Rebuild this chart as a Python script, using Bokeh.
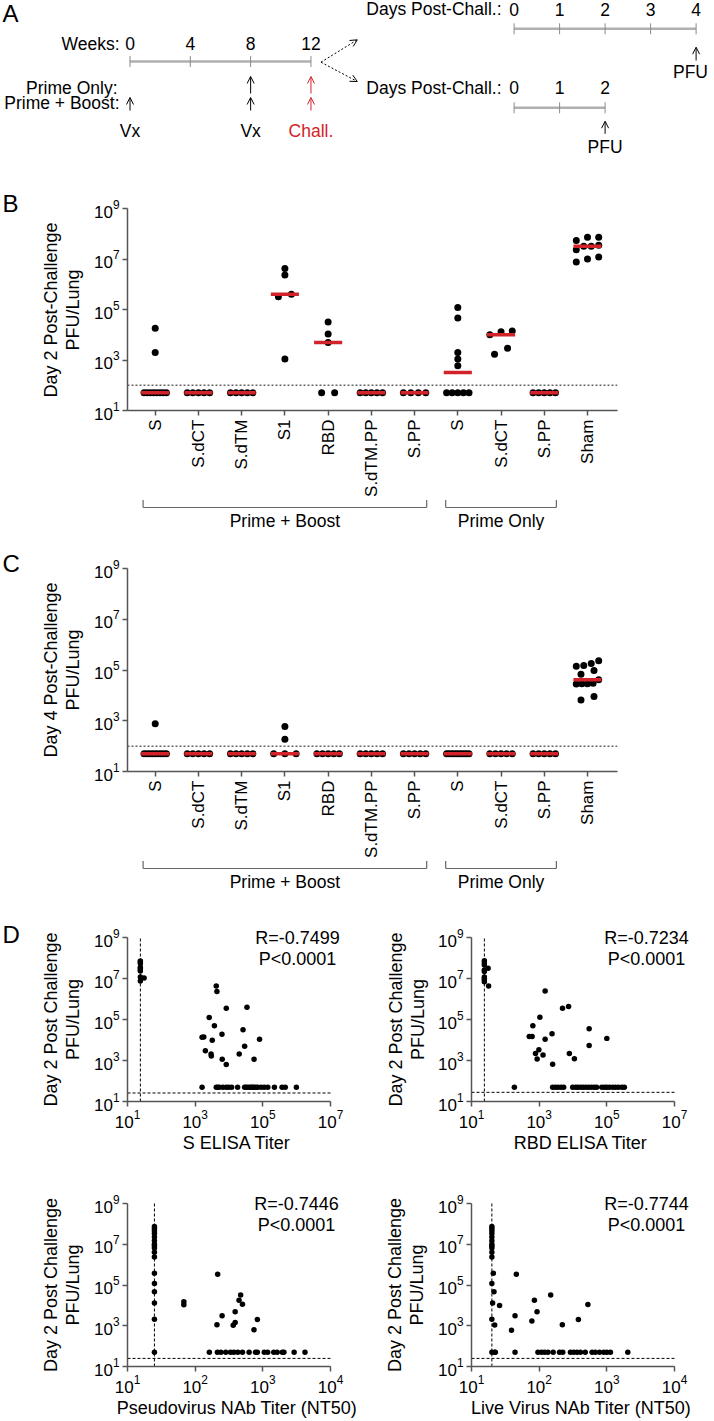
import math
import numpy as np
from bokeh.plotting import figure
from bokeh.layouts import column, row
from bokeh.models import Range1d, FixedTicker, Span, Arrow, OpenHead
from bokeh.embed import file_html
from bokeh.resources import INLINE
from bokeh.core.properties import value

FONT = "Liberation Sans"
RED = "#d2232a"
AXC = "#555555"

# ---------------- Panel A: schedule ----------------
weeks = [0, 4, 8, 12]
prime_only_vx_weeks = [8]
prime_boost_vx_weeks = [0, 8]
challenge_week = 12
days_long = [0, 1, 2, 3, 4]
days_short = [0, 1, 2]

# ---------------- Panels B / C ----------------
groups = ["S", "S.dCT", "S.dTM", "S1", "RBD", "S.dTM.PP", "S.PP", "S", "S.dCT", "S.PP", "Sham"]
regimens = ["Prime + Boost", "Prime Only"]
regimen_first = [0, 7]
regimen_last = [6, 9]

d2_S_pb = [1.8e4, 2.0e3, 50, 50, 50, 50, 50, 50, 50, 50]
d2_SdCT_pb = [50, 50, 50, 50, 50]
d2_SdTM_pb = [50, 50, 50, 50, 50]
d2_S1_pb = [4.2e6, 2.3e6, 4.0e5, 3.2e5, 1.1e3]
d2_RBD_pb = [3.2e4, 1.07e4, 4.9e3, 50, 50]
d2_SdTMPP_pb = [50, 50, 50, 50, 50]
d2_SPP_pb = [50, 50, 50, 50]
d2_S_po = [1.2e5, 4.6e4, 2.0e3, 1.1e3, 590, 50, 50, 50, 50, 50]
d2_SdCT_po = [1.3e4, 1.4e4, 1.0e4, 1.7e3, 2.9e3]
d2_SPP_po = [50, 50, 50, 50, 50]
d2_sham = [7.2e7, 7.2e7, 5.4e7, 3.5e7, 3.2e7, 3.2e7, 2.3e7, 1.2e7, 1.0e7, 7.6e6]

d4_S_pb = [760, 50, 50, 50, 50, 50, 50, 50, 50, 50]
d4_SdCT_pb = [50, 50, 50, 50, 50]
d4_SdTM_pb = [50, 50, 50, 50, 50]
d4_S1_pb = [590, 185, 50, 50, 50]
d4_RBD_pb = [50, 50, 50, 50, 50]
d4_SdTMPP_pb = [50, 50, 50, 50, 50]
d4_SPP_pb = [50, 50, 50, 50, 50]
d4_S_po = [50, 50, 50, 50, 50, 50, 50, 50, 50, 50]
d4_SdCT_po = [50, 50, 50, 50, 50]
d4_SPP_po = [50, 50, 50, 50, 50]
d4_sham = [2.3e5, 1.8e5, 1.5e5, 1.4e5, 9.6e4, 6.8e4, 4.1e4, 3.0e4, 2.9e4, 2.8e4, 2.9e4, 9.1e3, 6.6e3]

lod_pfu = 100

# ---------------- Panel D ----------------
s_elisa_titer = [24, 24, 24, 24, 24, 24, 24, 24, 31, 24,
                 4200, 4400, 8300, 3.4e4, 2600, 3700, 6200, 1600, 1800, 2.6e4,
                 8.0e4, 3200, 2000, 2950, 3000, 2.9e4, 2.0e4, 6300, 8300, 5.5e4,
                 1600, 4200, 4600, 5200, 6600, 8300, 9800, 1.2e4, 1.8e4, 2.9e4,
                 3.2e4, 3.6e4, 4.1e4, 4.6e4, 5.0e4, 5.6e4, 6.3e4, 7.1e4, 8.9e4, 1.1e5,
                 1.4e5, 2.2e5, 3.7e5, 4.6e5, 9.8e5]
s_elisa_pfu = [7.2e7, 6.5e7, 5.4e7, 3.5e7, 3.2e7, 2.6e7, 2.3e7, 1.2e7, 1.05e7, 7.6e6,
               4.3e6, 2.3e6, 3.5e5, 4.0e5, 1.26e5, 4.9e4, 1.9e4, 1.35e4, 1.4e4, 3.2e4,
               1.1e4, 9800, 3000, 2100, 1650, 4900, 2100, 1150, 630, 1150,
               50, 50, 50, 50, 50, 50, 50, 50, 50, 50,
               50, 50, 50, 50, 50, 50, 50, 50, 50, 50,
               50, 50, 50, 50, 50]

rbd_elisa_titer = [24, 24, 24, 31, 24, 24, 24, 24, 24, 24,
                   32, 1500, 4900, 7400, 1050, 650, 510, 620, 2400, 1500,
                   3.0e4, 1.0e5, 780, 980, 870, 1300, 2500, 7800, 1.1e4, 3.0e4,
                   185, 2500, 3000, 3600, 4400, 5300, 9800, 1.2e4, 1.4e4, 1.7e4,
                   2.0e4, 2.4e4, 2.9e4, 3.5e4, 4.2e4, 5.0e4, 7.1e4, 8.5e4, 1.0e5, 1.2e5,
                   1.5e5, 1.8e5, 2.2e5, 2.8e5, 3.3e5]
rbd_elisa_pfu = [7.4e7, 5.9e7, 4.6e7, 3.2e7, 2.6e7, 2.2e7, 1.2e7, 1.0e7, 8.5e6, 6.9e6,
                 4.3e6, 2.45e6, 3.5e5, 4.3e5, 1.3e5, 5.0e4, 1.5e4, 1.48e4, 2.0e4, 1.1e4,
                 3.5e4, 1.2e4, 2200, 3300, 1200, 1860, 660, 2200, 1230, 5400,
                 50, 50, 50, 50, 50, 50, 50, 50, 50, 50,
                 50, 50, 50, 50, 50, 50, 50, 50, 50, 50,
                 50, 50, 50, 50, 50]

pseudo_nt50 = [25, 25, 25, 25, 25, 25, 25, 25, 25, 25, 25, 25, 25, 25, 25, 25, 25,
               215, 68, 68, 250, 210, 390, 365, 390, 470, 445, 500, 740, 830,
               162, 213, 240, 283, 333, 373, 427, 500, 627, 780,
               830, 1050, 1180, 1450, 1630, 1940, 2050, 2900, 4200]
pseudo_pfu = [7.4e7, 6.0e7, 4.6e7, 3.4e7, 2.3e7, 1.5e7, 1.0e7, 8.3e6, 6.5e6, 4.0e6,
              2.4e6, 3.8e5, 1.2e5, 4.7e4, 1.3e4, 2100, 50,
              3.4e5, 1.5e4, 1.07e4, 3100, 1120, 4800, 1070, 1450, 3.2e4, 1.8e4, 1.15e4, 630, 2000,
              50, 50, 50, 50, 50, 50, 50, 50, 50, 50,
              50, 50, 50, 50, 50, 50, 50, 50, 50]

live_nt50 = [20, 20, 20, 20, 20, 20, 20, 20, 20, 20, 20, 21, 20, 21.5, 20.5, 20, 22, 20, 22, 22.5,
             46, 26, 44, 39, 78, 148, 85, 93, 220, 380, 525,
             44, 96, 108, 120, 135, 161, 200, 223, 290, 324,
             363, 407, 480, 605, 676, 780, 900, 1000, 1130, 2040]
live_pfu = [7.4e7, 6.0e7, 4.6e7, 3.4e7, 2.3e7, 1.5e7, 1.0e7, 8.3e6, 6.5e6, 4.0e6,
            2.4e6, 3.8e5, 1.2e5, 4.7e4, 1.3e4, 2100, 1100, 50, 50, 50,
            3.4e5, 1.0e4, 3100, 600, 1700, 3.2e4, 1.8e4, 4800, 1120, 2000, 1.1e4,
            50, 50, 50, 50, 50, 50, 50, 50, 50, 50,
            50, 50, 50, 50, 50, 50, 50, 50, 50, 50]

corr_r = ["R=-0.7499", "R=-0.7234", "R=-0.7446", "R=-0.7744"]
corr_p = ["P<0.0001", "P<0.0001", "P<0.0001", "P<0.0001"]
titer_names = ["S ELISA Titer", "RBD ELISA Titer", "Pseudovirus NAb Titer (NT50)", "Live Virus NAb Titer (NT50)"]
titer_cutoff = [24, 24, 25, 20]
pfu_cutoff = [26, 28, 25, 25]
y_ticks_pfu = [10, 1e3, 1e5, 1e7, 1e9]
x_ticks_elisa = [10, 1e3, 1e5, 1e7]
x_ticks_nab = [10, 1e2, 1e3, 1e4]


# ---------------- helpers ----------------
def common(p):
    p.grid.visible = False
    p.outline_line_color = None
    p.background_fill_color = "white"
    p.border_fill_color = "white"
    return p


def page_fig(x0, x1, y0, y1):
    """A figure whose frame covers a page rectangle; drawn with x=page x, y=-page y."""
    p = figure(width=int(x1 - x0), height=int(y1 - y0), x_range=Range1d(x0, x1), y_range=Range1d(-y1, -y0),
               x_axis_location=None, y_axis_location=None, output_backend="svg", toolbar_location=None,
               min_border_left=0, min_border_right=0, min_border_top=0, min_border_bottom=0)
    return common(p)


def ptext(p, xs, ys, texts, size="17.5px", align="center", angle=0.0, color="black"):
    p.text(x=list(xs), y=[-y for y in ys], text=list(texts), text_font=value(FONT), text_font_size=size,
           text_align=align, text_baseline="middle", angle=angle, text_color=color)


def style_axes(p):
    for ax in p.axis:
        ax.axis_line_color = AXC
        ax.axis_line_width = 1.5
        ax.major_tick_line_color = AXC
        ax.major_tick_line_width = 1.5
        ax.major_tick_out = 5
        ax.major_tick_in = 0
        ax.minor_tick_line_color = None
        ax.major_label_text_font = FONT
        ax.major_label_text_font_size = "17px"
        ax.major_label_text_color = "black"
        ax.major_label_standoff = 3
        ax.axis_label_text_font = FONT
        ax.axis_label_text_font_size = "18px"
        ax.axis_label_text_font_style = "normal"
        ax.axis_label_text_color = "black"


def swarm_offsets(vals, ppd=25.375, ppu=43.2, thresh=6.5, max_sp=13.0, width=22.4):
    order = sorted(range(len(vals)), key=lambda i: vals[i])
    bands = []
    for idx in order:
        lv = math.log10(vals[idx])
        if bands and (lv - bands[-1][0]) * ppd < thresh:
            bands[-1][1].append(idx)
        else:
            bands.append([lv, [idx]])
    off = [0.0] * len(vals)
    for _, members in bands:
        k = len(members)
        if k > 1:
            sp = min(max_sp, width / (k - 1))
            for j, idx in enumerate(members):
                off[idx] = (j - (k - 1) / 2) * sp / ppu
    return off


def W(p):
    return column(p)


# ---------------- Panel A ----------------
pA = page_fig(0, 714, 0, 155)


def wx(w):
    return 129.5 + 15.08 * w


def dx(d):
    return 513.6 + 45.5 * d


GRAY_LINE = "#b0b0b0"
TICK_C = "#8a8a8a"


def timeline(p, xs, y):
    p.line(x=[xs[0], xs[-1]], y=[-y, -y], line_color=GRAY_LINE, line_width=2.5)
    p.segment(x0=xs, x1=xs, y0=[-(y - 5.5)] * len(xs), y1=[-(y + 5.5)] * len(xs),
              line_color=TICK_C, line_width=1)


def up_arrow(p, x, y0, y1, color, dash="solid", x1=None):
    p.add_layout(Arrow(end=OpenHead(size=7, line_color=color, line_width=1),
                       x_start=x, y_start=-y0, x_end=x if x1 is None else x1, y_end=-y1,
                       line_color=color, line_width=1, line_dash=dash))


timeline(pA, [wx(w) for w in weeks], 61)
ptext(pA, [wx(w) for w in weeks], [43] * len(weeks), [str(w) for w in weeks])
ptext(pA, [119, 117, 119], [43, 87, 102], ["Weeks:", "Prime Only:", "Prime + Boost:"], align="right")
for w in prime_only_vx_weeks:
    up_arrow(pA, wx(w), 93, 76, "black")
up_arrow(pA, wx(challenge_week), 93, 76, RED)
for w in prime_boost_vx_weeks:
    up_arrow(pA, wx(w), 110, 97, "black")
up_arrow(pA, wx(challenge_week), 110, 97, RED)
ptext(pA, [wx(w) for w in prime_boost_vx_weeks], [130] * len(prime_boost_vx_weeks),
      ["Vx"] * len(prime_boost_vx_weeks))
ptext(pA, [wx(challenge_week)], [130], ["Chall."], color=RED)
for yend in (39.3, 81.0):
    up_arrow(pA, wx(challenge_week) + 10, 61.7, yend, "black", dash="2 2", x1=356.8)
for days, y_lab, y_line in ((days_long, 8.8, 28.3), (days_short, 87.3, 107.3)):
    ptext(pA, [501], [y_lab], ["Days Post-Chall.:"], align="right")
    ptext(pA, [dx(d) for d in days], [y_lab] * len(days), [str(d) for d in days])
    timeline(pA, [dx(d) for d in days], y_line)
up_arrow(pA, dx(days_long[-1]), 60, 46.7, "black")
ptext(pA, [690], [71.7], ["PFU"])
up_arrow(pA, dx(days_short[-1]), 133.3, 120.7, "black")
ptext(pA, [dx(days_short[-1])], [146], ["PFU"])
ptext(pA, [2], [13], ["A"], size="24px", align="left")


# ---------------- Panels B / C ----------------
XR_LO, XR_HI = -0.641, 10.694


def category_block(fig_top, top, bottom, data, ylabel_lines, letter, br_height):
    height = top + 203 + bottom
    frame_top = fig_top + top
    side = page_fig(0, 85, fig_top, fig_top + height)
    mid = frame_top + 101.5
    ptext(side, [50, 72], [mid, mid], ylabel_lines, size="18px", angle=math.pi / 2)
    ptext(side, [2], [frame_top - 5], [letter], size="24px", align="left")

    xr = Range1d(XR_LO, XR_HI)
    p = figure(width=629, height=height, x_range=xr, y_range=Range1d(10, 1e9), y_axis_type="log",
               output_backend="svg", toolbar_location=None,
               min_border_left=42, min_border_right=97, min_border_top=top, min_border_bottom=bottom)
    common(p)
    style_axes(p)
    p.yaxis.ticker = FixedTicker(ticks=y_ticks_pfu, minor_ticks=[])
    p.xaxis.ticker = FixedTicker(ticks=list(range(len(groups))), minor_ticks=[])
    p.xaxis.major_label_overrides = {i: g for i, g in enumerate(groups)}
    p.xaxis.major_label_orientation = math.pi / 2
    p.xaxis.major_label_standoff = 4
    p.add_layout(Span(location=lod_pfu, dimension="width", line_color="#666666",
                      line_dash="2 2", line_width=1.5))
    xs, ys = [], []
    for i, vals in enumerate(data):
        offs = swarm_offsets(vals)
        xs += [i + o for o in offs]
        ys += list(vals)
    p.scatter(x=xs, y=ys, size=7, fill_color="black", line_color=None)
    med = [float(np.median(v)) for v in data]
    idx = list(range(len(data)))
    p.segment(x0=[i - 0.325 for i in idx], x1=[i + 0.325 for i in idx], y0=med, y1=med,
              line_color=RED, line_width=3.5)

    btop = fig_top + height
    br = figure(width=714, height=br_height, x_range=xr, y_range=Range1d(-(btop + br_height), -btop),
                x_axis_location=None, y_axis_location=None, output_backend="svg", toolbar_location=None,
                min_border_left=127, min_border_right=97, min_border_top=0, min_border_bottom=0)
    common(br)
    for a, b in zip(regimen_first, regimen_last):
        x0, x1 = a - 0.28, b + 0.28
        yb, yt = -(btop + 8), -(btop + 0.5)
        br.segment(x0=[x0, x0, x1], x1=[x1, x0, x1], y0=[yb, yb, yb], y1=[yb, yt, yt],
                   line_color="#666666", line_width=1.2)
    br.text(x=[(a + b) / 2 for a, b in zip(regimen_first, regimen_last)], y=[-(btop + 21)] * len(regimens),
            text=regimens, text_font=value(FONT), text_font_size="17.5px",
            text_align="center", text_baseline="middle")
    return row(W(side), W(p)), W(br)


day2_data = [d2_S_pb, d2_SdCT_pb, d2_SdTM_pb, d2_S1_pb, d2_RBD_pb, d2_SdTMPP_pb, d2_SPP_pb,
             d2_S_po, d2_SdCT_po, d2_SPP_po, d2_sham]
day4_data = [d4_S_pb, d4_SdCT_pb, d4_SdTM_pb, d4_S1_pb, d4_RBD_pb, d4_SdTMPP_pb, d4_SPP_pb,
             d4_S_po, d4_SdCT_po, d4_SPP_po, d4_sham]

blockB, blockBr = category_block(155, 53, 88, day2_data, ["Day 2 Post-Challenge", "PFU/Lung"], "B", 31)
blockC, blockCr = category_block(530, 38, 89, day4_data, ["Day 4 Post-Challenge", "PFU/Lung"], "C", 32)


# ---------------- Panel D ----------------
EXT = 16  # extra frame pixels to the right of the x axis end (room for the R/P text)


def corr_plot(k, titers, pfus, width, left, right, fig_top, height, top, bottom, frame_l, y9_page,
              xmax, xticks, r_x, label_standoff):
    frame_t = fig_top + top
    frame_b = fig_top + height - bottom
    ppd = (frame_b - y9_page) / 8.0
    ytop = 10 ** (1 + (frame_b - frame_t) / ppd)
    xdec = math.log10(xmax) - 1
    ppx = 203.0 / xdec
    xhi = 10 ** (math.log10(xmax) + EXT / ppx)
    p = figure(width=width, height=height, x_range=Range1d(10, xhi), y_range=Range1d(10, ytop),
               x_axis_type="log", y_axis_type="log", output_backend="svg", toolbar_location=None,
               min_border_left=left, min_border_right=right - EXT, min_border_top=top, min_border_bottom=bottom)
    common(p)
    style_axes(p)
    p.yaxis.ticker = FixedTicker(ticks=y_ticks_pfu, minor_ticks=[])
    p.yaxis.bounds = (10, 1e9)
    p.xaxis.ticker = FixedTicker(ticks=xticks, minor_ticks=[])
    p.xaxis.bounds = (10, xmax)
    p.xaxis.axis_label = titer_names[k]
    p.xaxis.axis_label_standoff = label_standoff
    p.segment(x0=[titer_cutoff[k]], x1=[titer_cutoff[k]], y0=[10], y1=[1e9], line_color="black",
              line_dash="3 2", line_width=1, level="underlay")
    p.segment(x0=[10], x1=[xmax], y0=[pfu_cutoff[k]], y1=[pfu_cutoff[k]], line_color="black",
              line_dash="3 2", line_width=1, level="underlay")
    p.scatter(x=titers, y=pfus, size=5.5, fill_color="black", line_color=None)
    xr = 10 ** (1 + (r_x - frame_l) / ppx)
    y1 = 10 ** (1 + (frame_b - y9_page) / ppd)
    y2 = 10 ** (1 + (frame_b - (y9_page + 21.3)) / ppd)
    p.text(x=[xr, xr], y=[y1, y2], text=[corr_r[k], corr_p[k]], text_font=value(FONT),
           text_font_size="18px", text_align="center", text_baseline="middle")
    return p


def side_titles(x0, x1, y0, y1, xs, mid, letter=None, letter_y=None):
    s = page_fig(x0, x1, y0, y1)
    ptext(s, xs, [mid, mid], ["Day 2 Post Challenge", "PFU/Lung"], size="18px", angle=math.pi / 2)
    if letter:
        ptext(s, [2], [letter_y], [letter], size="24px", align="left")
    return s


# top row: page y 892 - 1160
sD1 = side_titles(0, 85, 892, 1160, [50, 72], 1019, "D", 934)
pD1 = corr_plot(0, s_elisa_titer, s_elisa_pfu, 287, 42, 42, 892, 268, 34, 59, 127, 937, 1e7,
                x_ticks_elisa, 297, 2)
sD2 = side_titles(372, 429, 892, 1160, [395, 417], 1019)
pD2 = corr_plot(1, rbd_elisa_titer, rbd_elisa_pfu, 285, 42, 40, 892, 268, 34, 59, 471, 937, 1e7,
                x_ticks_elisa, 646, 2)
# bottom row: page y 1160 - 1421
sD3 = side_titles(0, 85, 1160, 1421, [50, 72], 1284.5)
pD3 = corr_plot(2, pseudo_nt50, pseudo_pfu, 287, 42, 42, 1160, 261, 32, 55, 127, 1203, 1e4,
                x_ticks_nab, 296, 2)
sD4 = side_titles(372, 429, 1160, 1421, [394, 416], 1284.5)
pD4 = corr_plot(3, live_nt50, live_pfu, 285, 42, 40, 1160, 261, 32, 55, 471, 1203, 1e4,
                x_ticks_nab, 646, 2)

layout = column(W(pA), blockB, blockBr, blockC, blockCr,
                row(W(sD1), W(pD1), W(sD2), W(pD2)),
                row(W(sD3), W(pD3), W(sD4), W(pD4)))
open("out.html", "w").write(file_html(layout, INLINE, "Figure"))
